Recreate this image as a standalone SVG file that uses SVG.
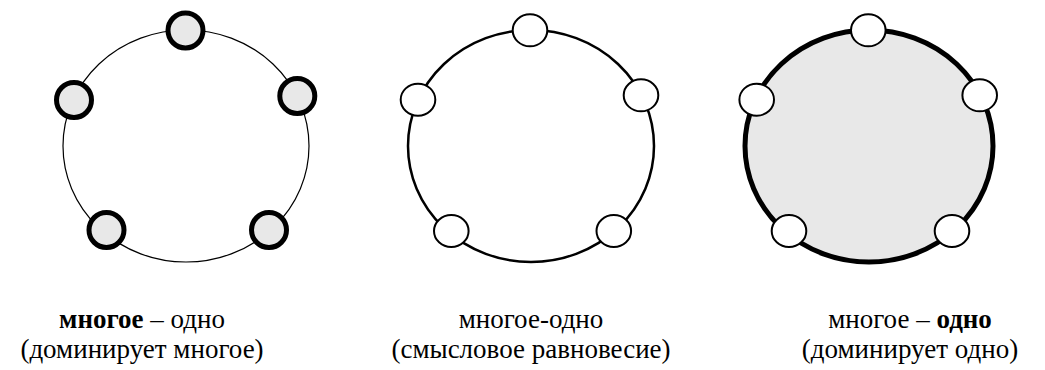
<svg xmlns="http://www.w3.org/2000/svg" width="1045" height="370" viewBox="0 0 1045 370">
<style>
.big1{fill:none;stroke:#000;stroke-width:1.2}
.big2{fill:none;stroke:#000;stroke-width:2.5}
.big3{fill:#e8e8e8;stroke:#000;stroke-width:5}
.s1{fill:#e8e8e8;stroke:#000;stroke-width:5}
.s2{fill:#fff;stroke:#000;stroke-width:2}
text{font-family:"Liberation Serif","Times New Roman",serif;font-size:27px;fill:#000;text-anchor:middle}
.b{font-weight:bold}
</style>
<rect width="1045" height="370" fill="#fff"/>
<g id="connectors">
<ellipse class="big1" cx="186" cy="146" rx="123" ry="116"/>
<ellipse class="big2" cx="531" cy="146" rx="123" ry="116"/>
<ellipse class="big3" cx="869" cy="146" rx="124" ry="116"/>
</g>
<g id="diagram1">
<circle class="s1" cx="185.5" cy="30.5" r="17.5"/>
<circle class="s1" cx="74" cy="100" r="17.5"/>
<circle class="s1" cx="297.3" cy="96" r="17.5"/>
<circle class="s1" cx="106.5" cy="230" r="17.5"/>
<circle class="s1" cx="269" cy="230" r="17.5"/>
</g>
<g id="diagram2">
<ellipse class="s2" cx="530" cy="30.3" rx="17.3" ry="16"/>
<ellipse class="s2" cx="418" cy="99.7" rx="17.3" ry="16"/>
<ellipse class="s2" cx="641" cy="95.3" rx="17.3" ry="16"/>
<ellipse class="s2" cx="451.3" cy="231" rx="17.3" ry="16"/>
<ellipse class="s2" cx="613.8" cy="231" rx="17.3" ry="16"/>
</g>
<g id="diagram3">
<ellipse class="s2" cx="868.3" cy="30.3" rx="17.3" ry="16"/>
<ellipse class="s2" cx="756.7" cy="99.7" rx="17.3" ry="16"/>
<ellipse class="s2" cx="979.7" cy="95.3" rx="17.3" ry="16"/>
<ellipse class="s2" cx="789" cy="231" rx="17.3" ry="16"/>
<ellipse class="s2" cx="952" cy="231" rx="17.3" ry="16"/>
</g>
<g id="label1">
<text x="142" y="328"><tspan class="b">многое</tspan> – одно</text>
<text x="142" y="358">(доминирует многое)</text>
</g>
<g id="label2">
<text x="531" y="328">многое-одно</text>
<text x="531" y="358">(смысловое равновесие)</text>
</g>
<g id="label3">
<text x="910" y="328">многое – <tspan class="b">одно</tspan></text>
<text x="910" y="358">(доминирует одно)</text>
</g>
</svg>
